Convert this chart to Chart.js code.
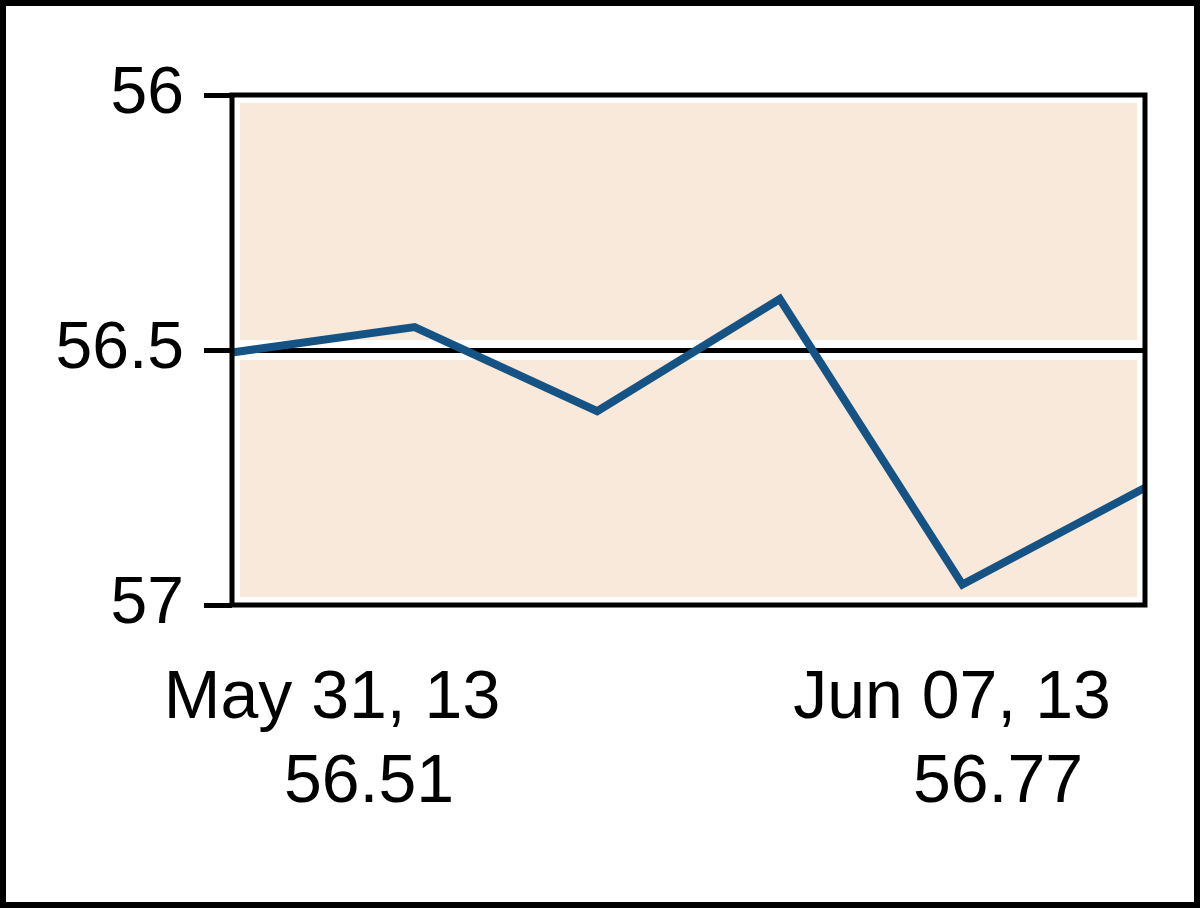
<!DOCTYPE html>
<html>
<head>
<meta charset="utf-8">
<script src="https://cdn.jsdelivr.net/npm/chart.js@4/dist/chart.umd.min.js"></script>
<style>
  html, body { margin: 0; padding: 0; background: #fff; }
  #wrap { width: 1200px; height: 908px; box-sizing: border-box; border: 6px solid #000; background: #fff; }
  canvas { display: block; }
</style>
</head>
<body>
<div id="wrap"><canvas id="chart" width="1188" height="896"></canvas></div>
<script>
// Daily closes, May 31 - Jun 07 2013
const dates = ["May 31, 13", "Jun 03, 13", "Jun 04, 13", "Jun 05, 13", "Jun 06, 13", "Jun 07, 13"];
const closes = [56.505, 56.455, 56.62, 56.40, 56.96, 56.77];
const yTicks = [56, 56.5, 57];

const FONT = "'Liberation Sans', Arial, sans-serif";
const PEACH = "#F9E9DA";

// plot background: peach panel inset from the frame, white band round the 56.5 line
const panelBg = {
  id: "panelBg",
  beforeDraw(chart) {
    const { ctx, chartArea: a, scales } = chart;
    const inset = 8;
    ctx.save();
    ctx.fillStyle = PEACH;
    ctx.fillRect(a.left + inset, a.top + inset, a.width - inset * 2, a.height - inset * 2);
    const mid = scales.y.getPixelForValue(yTicks[1]);
    ctx.fillStyle = "#fff";
    ctx.fillRect(a.left, mid - 10, a.width, 20);
    ctx.restore();
  },
  afterDatasetsDraw(chart) {
    const { ctx, chartArea: a } = chart;
    ctx.save();
    ctx.strokeStyle = "#000";
    ctx.lineWidth = 5;
    ctx.strokeRect(a.left, a.top, a.width, a.height);
    ctx.restore();
  }
};

// first / last date with the close underneath
const endLabels = {
  id: "endLabels",
  afterDraw(chart) {
    const { ctx, chartArea: a } = chart;
    const last = dates.length - 1;
    ctx.save();
    ctx.fillStyle = "#000";
    ctx.font = "68px " + FONT;
    ctx.textAlign = "center";
    ctx.textBaseline = "middle";
    ctx.fillText(dates[0], a.left + 100, a.bottom + 94);
    ctx.fillText(closes[0].toFixed(2), a.left + 137, a.bottom + 178);
    ctx.fillText(dates[last], a.right - 193, a.bottom + 94);
    ctx.fillText(closes[last].toFixed(2), a.right - 147, a.bottom + 178);
    ctx.restore();
  }
};

new Chart(document.getElementById("chart"), {
  type: "line",
  data: {
    labels: dates,
    datasets: [{
      data: closes,
      borderColor: "#165385",
      borderWidth: 8,
      pointRadius: 0,
      tension: 0,
      fill: false
    }]
  },
  options: {
    responsive: false,
    animation: false,
    layout: { padding: { top: 89, right: 49, bottom: 297, left: 0 } },
    plugins: { legend: { display: false }, tooltip: { enabled: false } },
    scales: {
      x: { display: false, offset: false },
      y: {
        reverse: true,
        min: 56,
        max: 57,
        afterBuildTicks: (scale) => { scale.ticks = yTicks.map(v => ({ value: v })); },
        afterFit: (scale) => { scale.width = 226; },
        border: { display: false },
        grid: {
          color: (c) => (c.tick && c.tick.value === yTicks[1]) ? "#000" : "rgba(0,0,0,0)",
          tickColor: "#000",
          lineWidth: 5,
          tickLength: 28
        },
        ticks: {
          color: "#000",
          padding: 20,
          font: { family: FONT, size: 66 },
          callback: (v) => String(v)
        }
      }
    }
  },
  plugins: [panelBg, endLabels]
});
</script>
</body>
</html>
